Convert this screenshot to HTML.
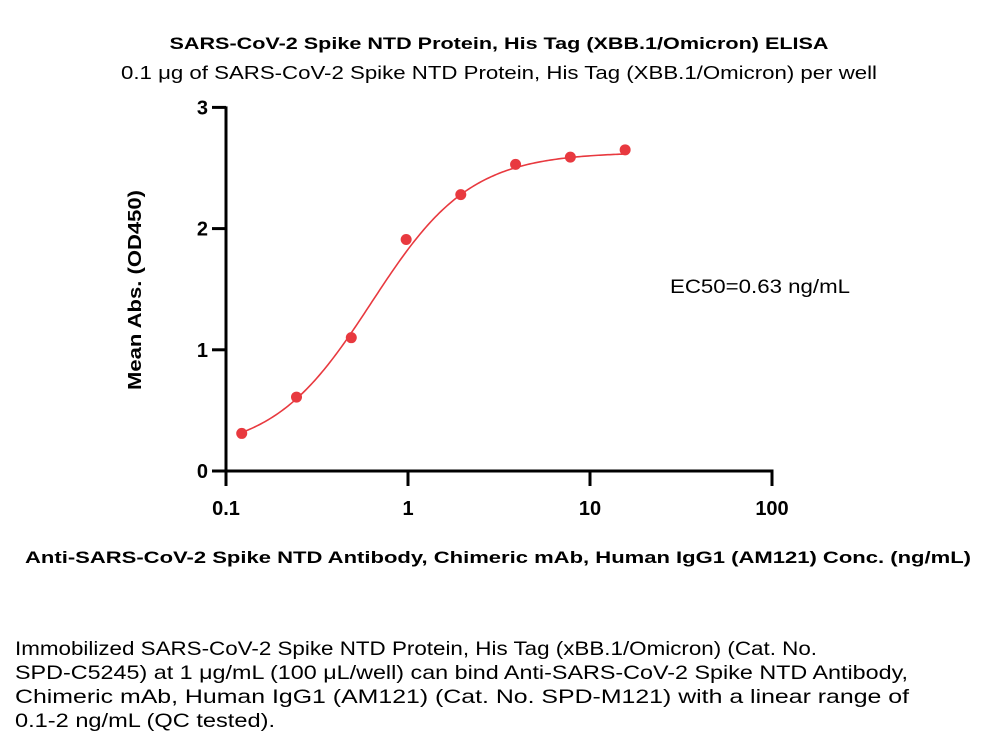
<!DOCTYPE html>
<html><head><meta charset="utf-8"><style>
html,body{margin:0;padding:0;background:#fff;}
svg{display:block;font-family:"Liberation Sans",Arial,sans-serif;}
</style></head><body>
<svg id="chart" width="1000" height="751" viewBox="0 0 1000 751">
<text x="499" y="49" text-anchor="middle" font-weight="bold" font-size="17" textLength="659" lengthAdjust="spacingAndGlyphs">SARS-CoV-2 Spike NTD Protein, His Tag (XBB.1/Omicron) ELISA</text>
<text x="499" y="79" text-anchor="middle" font-size="18" textLength="756" lengthAdjust="spacingAndGlyphs">0.1 μg of SARS-CoV-2 Spike NTD Protein, His Tag (XBB.1/Omicron) per well</text>
<g id="axes"></g>
<g id="marks"></g>
<text transform="translate(141,290) rotate(-90)" text-anchor="middle" font-weight="bold" font-size="18" textLength="200" lengthAdjust="spacingAndGlyphs">Mean Abs. (OD450)</text>
<text x="498" y="563" text-anchor="middle" font-weight="bold" font-size="17" textLength="946" lengthAdjust="spacingAndGlyphs">Anti-SARS-CoV-2 Spike NTD Antibody, Chimeric mAb, Human IgG1 (AM121) Conc. (ng/mL)</text>
<text x="670" y="293" font-size="19" textLength="180" lengthAdjust="spacingAndGlyphs">EC50=0.63 ng/mL</text>
<g font-size="19.5">
<text x="15" y="655" textLength="802" lengthAdjust="spacingAndGlyphs">Immobilized SARS-CoV-2 Spike NTD Protein, His Tag (xBB.1/Omicron) (Cat. No.</text>
<text x="15" y="679" textLength="893" lengthAdjust="spacingAndGlyphs">SPD-C5245) at 1 μg/mL (100 μL/well) can bind Anti-SARS-CoV-2 Spike NTD Antibody,</text>
<text x="15" y="703" textLength="894" lengthAdjust="spacingAndGlyphs">Chimeric mAb, Human IgG1 (AM121) (Cat. No. SPD-M121) with a linear range of</text>
<text x="15" y="727" textLength="260" lengthAdjust="spacingAndGlyphs">0.1-2 ng/mL (QC tested).</text>
</g>
</svg>
<script>
const concs=[0.122,0.244,0.488,0.977,1.95,3.9,7.8,15.6];
const values=[0.31,0.61,1.10,1.91,2.28,2.53,2.59,2.65];
const xTicks=[0.1,1,10,100];
const xTickLabels=["0.1","1","10","100"];
const yTicks=[0,1,2,3];
const fitBottom=[0.15];const fitTop=[2.63];const fitEC50=[0.63];const fitHill=[1.6];
const NS="http://www.w3.org/2000/svg";
const X0=226,DEC=182,Y0=471,YU=121.2;
function xs(v){return X0+Math.log10(v/0.1)*DEC;}
function ys(v){return Y0-v*YU;}
function mk(t,a,p){const e=document.createElementNS(NS,t);for(const k in a)e.setAttribute(k,a[k]);p.appendChild(e);return e;}
const ax=document.getElementById('axes'),mg=document.getElementById('marks');
let l=mk('line',{x1:X0,y1:ys(3)-1,x2:X0,y2:Y0+1.5,stroke:'#000','stroke-width':3},ax);


l=mk('line',{x1:X0-1.5,y1:Y0,x2:xs(100)+1.5,y2:Y0,stroke:'#000','stroke-width':3},ax);


yTicks.forEach(v=>{
 const t=mk('line',{x1:X0-14,y1:ys(v),x2:X0,y2:ys(v),stroke:'#000','stroke-width':3},ax);
 
 
 const tx=mk('text',{x:X0-18,y:ys(v)+7,'text-anchor':'end','font-weight':'bold','font-size':20},ax);
 tx.textContent=String(v);
 
 
});
xTicks.forEach((v,i)=>{
 const t=mk('line',{x1:xs(v),y1:Y0,x2:xs(v),y2:Y0+15,stroke:'#000','stroke-width':3},ax);
 
 
 const tx=mk('text',{x:xs(v),y:Y0+44,'text-anchor':'middle','font-weight':'bold','font-size':20},ax);
 tx.textContent=xTickLabels[i];
 
 
});
function fit(x){const r=Math.pow(x/fitEC50[0],fitHill[0]);return fitBottom[0]+(fitTop[0]-fitBottom[0])*r/(1+r);}
let d='';const a=Math.log10(concs[0]),b=Math.log10(concs[concs.length-1]);
for(let i=0;i<=200;i++){const x=Math.pow(10,a+(b-a)*i/200);d+=(i?'L':'M')+xs(x).toFixed(2)+' '+ys(fit(x)).toFixed(2);}
const c=mk('path',{d:d,fill:'none',stroke:'#e8393f','stroke-width':1.6},mg);


concs.forEach((v,i)=>{
 const p=mk('circle',{cx:xs(v),cy:ys(values[i]),r:5.5,fill:'#e8393f'},mg);
 
 
});
</script>
</body></html>
